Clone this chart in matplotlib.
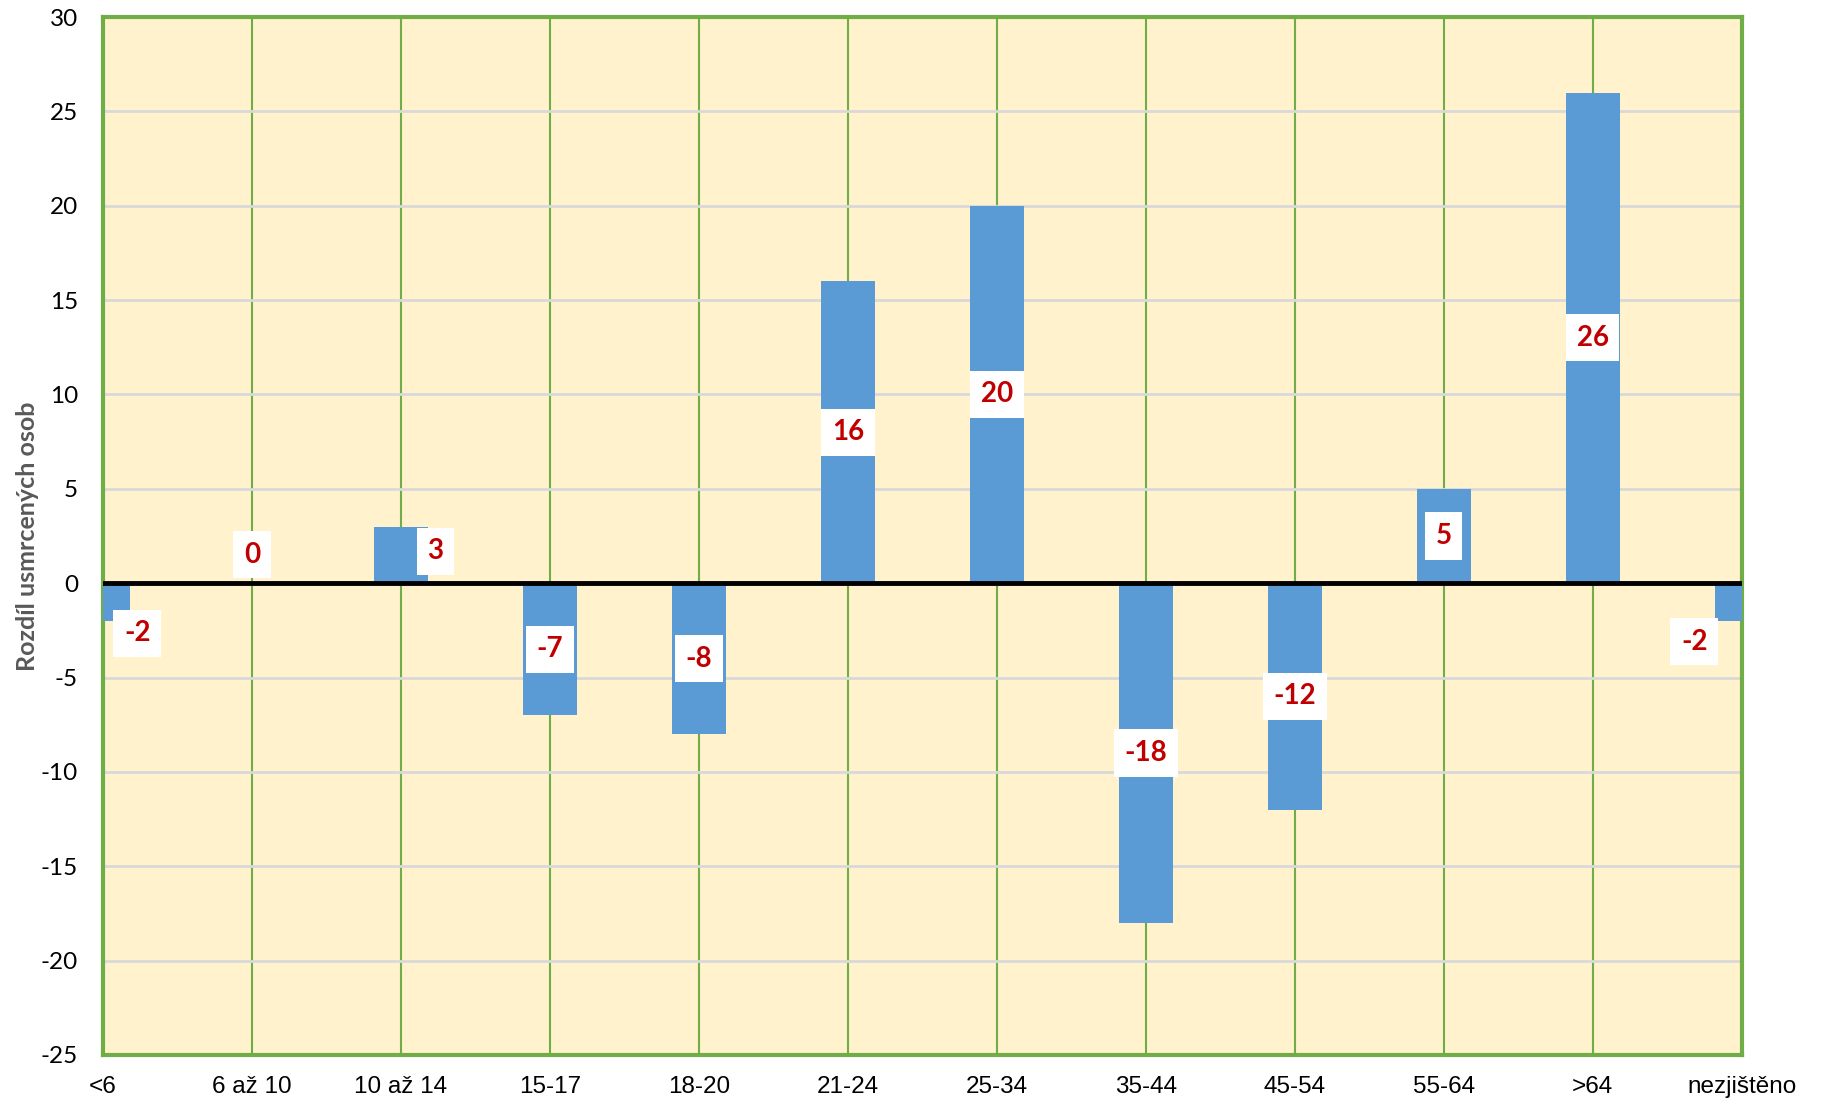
import numpy as np
import matplotlib.pyplot as plt

categories = ['<6', '6 až 10', '10 až 14', '15-17', '18-20', '21-24', '25-34',
              '35-44', '45-54', '55-64', '>64', 'nezjištěno']
values = [-2, 0, 3, -7, -8, 16, 20, -18, -12, 5, 26, -2]
# label shifts for the small bars (in category units / y units)
label_dx = [0.23, 0, 0.23, 0, 0, 0, 0, 0, 0, 0, 0, -0.32]
label_dy = [-1.65, 1.5, 0.2, 0, 0, 0, 0, 0, 0, 0, 0, -2.1]

plt.rcParams['font.family'] = ['Lato', 'DejaVu Sans']
plt.rcParams['axes.unicode_minus'] = False

fig = plt.figure(figsize=(18.22, 11.07), dpi=100)
ax = fig.add_axes([0.0565, 0.047, 0.8995, 0.9376])
ax.set_facecolor('#FFF2CC')

x = np.arange(len(categories))
ax.bar(x, values, width=0.36, color='#5B9BD5', zorder=3)
ax.axhline(0, color='black', lw=3.5, zorder=4)

for i, v in enumerate(values):
    ax.text(x[i] + label_dx[i], v / 2 + label_dy[i], str(v), ha='center', va='center',
            fontsize=20, fontweight='bold', color='#C00000', zorder=5,
            bbox=dict(boxstyle='square,pad=0.38', fc='white', ec='none'))

ax.set_xlim(0, len(categories) - 1)
ax.set_ylim(-25, 30)
ax.set_yticks(np.arange(-25, 31, 5))
ax.set_xticks(x)
ax.set_xticklabels(categories, fontfamily=['Liberation Sans', 'DejaVu Sans'], fontsize=17.5)
ax.tick_params(axis='both', length=0)
ax.tick_params(axis='y', labelsize=17.5, pad=18)
ax.tick_params(axis='x', pad=15)

ax.grid(axis='y', color='#D9D9D9', lw=2, zorder=1)
ax.grid(axis='x', color='#70AD47', lw=1.5, zorder=2)
for s in ax.spines.values():
    s.set_color('#70AD47')
    s.set_linewidth(3)

ax.set_ylabel('Rozdíl usmrcených osob', fontsize=18, fontweight='bold', color='#595959', labelpad=1)

fig.savefig('out.png', dpi=100)
